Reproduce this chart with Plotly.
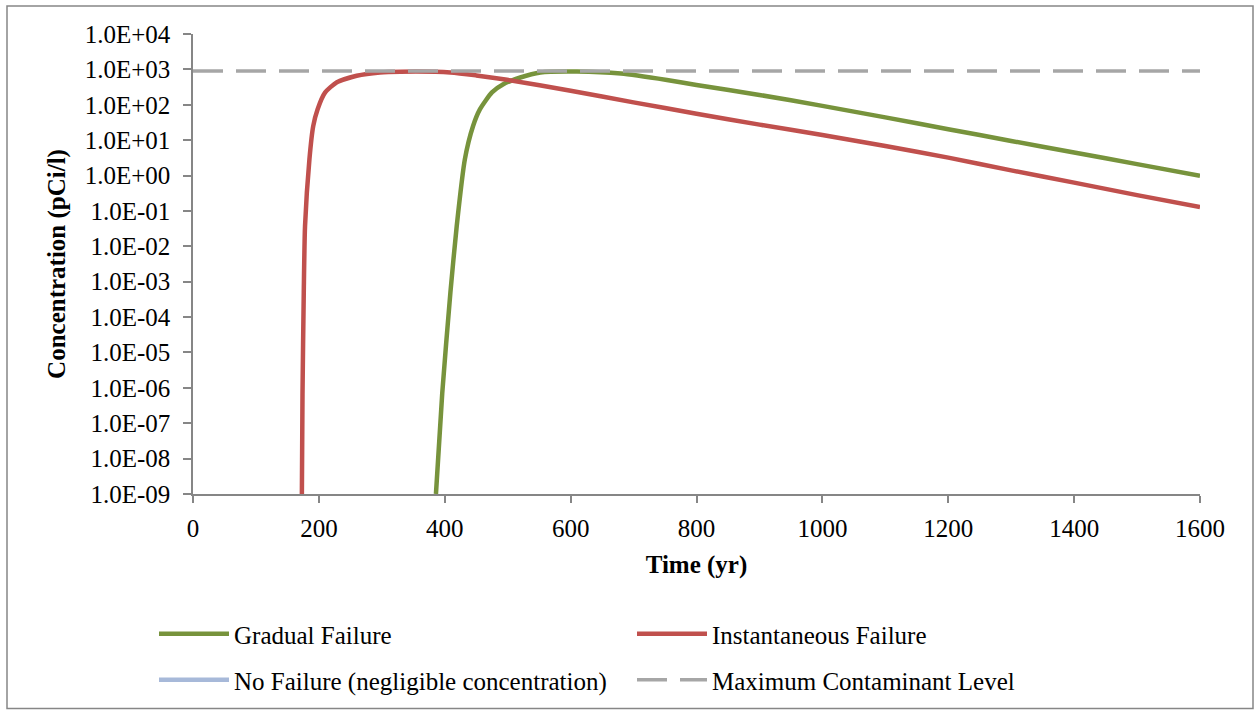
import plotly.graph_objects as go

# ---- data ----
inst_time = [173, 174, 176, 178, 185, 191, 198, 210, 228, 260, 297, 330, 409, 450, 499,
             600, 700, 800, 900, 1000, 1100, 1200, 1300, 1400, 1500, 1600]
inst_conc = [1e-9, 7e-7, 5e-4, 0.037, 2.9, 25, 75, 224, 427, 660, 820, 860, 820, 676, 507,
             250, 117, 56, 27.5, 14, 6.8, 3.2, 1.4, 0.63, 0.28, 0.129]

grad_time = [386, 396, 409, 419, 432, 445, 456, 475, 493, 520, 552, 610, 680, 753, 800,
             900, 1000, 1100, 1200, 1300, 1400, 1500, 1600]
grad_conc = [1e-9, 7e-7, 5e-4, 0.037, 2.9, 25, 75, 224, 380, 590, 820, 870, 760, 500, 363,
             190, 93, 44, 20.4, 9.5, 4.5, 2.1, 0.98]

nofail_time = [0, 1600]
nofail_conc = [0, 0]          # negligible concentration

mcl_time = [0, 1600]
mcl_conc = [900, 900]

y_exponents = list(range(-9, 5))
y_tickvals = [10.0 ** k for k in y_exponents]
y_ticktext = [("1.0E+%02d" % k) if k >= 0 else ("1.0E-%02d" % (-k)) for k in y_exponents]
x_tickvals = list(range(0, 1601, 200))

FONT = "Liberation Serif, Times New Roman, serif"
AXIS_GRAY = "#868686"
FS = 25

fig = go.Figure()
fig.add_trace(go.Scatter(x=grad_time, y=grad_conc, mode="lines", name="Gradual Failure",
                         line=dict(color="#77933C", width=4.5, shape="spline", smoothing=0.6),
                         legend="legend"))
fig.add_trace(go.Scatter(x=inst_time, y=inst_conc, mode="lines", name="Instantaneous Failure",
                         line=dict(color="#C0504D", width=4.5, shape="spline", smoothing=0.6),
                         legend="legend"))
fig.add_trace(go.Scatter(x=nofail_time, y=nofail_conc, mode="lines",
                         name="No Failure (negligible concentration)",
                         line=dict(color="#A7B9D9", width=4.5), legend="legend2"))
fig.add_trace(go.Scatter(x=mcl_time, y=mcl_conc, mode="lines", name="Maximum Contaminant Level",
                         line=dict(color="#A6A6A6", width=3.5, dash="30px,13px"),
                         legend="legend2"))

W, H = 1255, 713
L, R, T, B = 193, 55, 34, 218
pw, ph = W - L - R, H - T - B

def px_x(p):
    return (p - L) / pw

def px_y(p):
    return (H - B - p) / ph

legend_common = dict(orientation="h", font=dict(family=FONT, size=FS, color="black"),
                     entrywidth=393, entrywidthmode="pixels", itemwidth=70,
                     bgcolor="rgba(0,0,0,0)", xanchor="left", yanchor="middle")

fig.update_layout(
    width=W, height=H,
    margin=dict(l=L, r=R, t=T, b=B),
    paper_bgcolor="white", plot_bgcolor="white",
    font=dict(family=FONT, size=FS, color="black"),
    showlegend=True,
    legend=dict(x=px_x(154), y=px_y(634), **legend_common),
    legend2=dict(x=px_x(154), y=px_y(680), **legend_common),
    xaxis=dict(range=[0, 1600], tickvals=x_tickvals, showgrid=False, zeroline=False,
               showline=True, linecolor=AXIS_GRAY, linewidth=1.5,
               ticks="outside", ticklen=7, tickcolor=AXIS_GRAY, tickwidth=1.5,
               ticklabelstandoff=4,
               tickfont=dict(family=FONT, size=FS, color="black"),
               title=dict(text="<b>Time (yr)</b>", font=dict(family=FONT, size=FS, color="black"),
                          standoff=15)),
    yaxis=dict(type="log", range=[-9, 4], tickvals=y_tickvals, ticktext=y_ticktext,
               showgrid=False, zeroline=False, showline=True, linecolor=AXIS_GRAY, linewidth=1.5,
               ticks="outside", ticklen=8, tickcolor=AXIS_GRAY, tickwidth=1.5,
               ticklabelstandoff=8,
               tickfont=dict(family=FONT, size=FS, color="black"),
               title=dict(text="<b>Concentration (pCi/l)</b>",
                          font=dict(family=FONT, size=FS, color="black"), standoff=12)),
    shapes=[dict(type="rect", xref="paper", yref="paper",
                 x0=px_x(7), x1=px_x(1253), y0=px_y(710), y1=px_y(6),
                 line=dict(color="#868686", width=1.5), fillcolor="rgba(0,0,0,0)", layer="below")],
)

fig.write_html("out.html", config={"displayModeBar": False},
               post_script="document.body.style.margin='0';document.body.style.overflow='hidden';")
